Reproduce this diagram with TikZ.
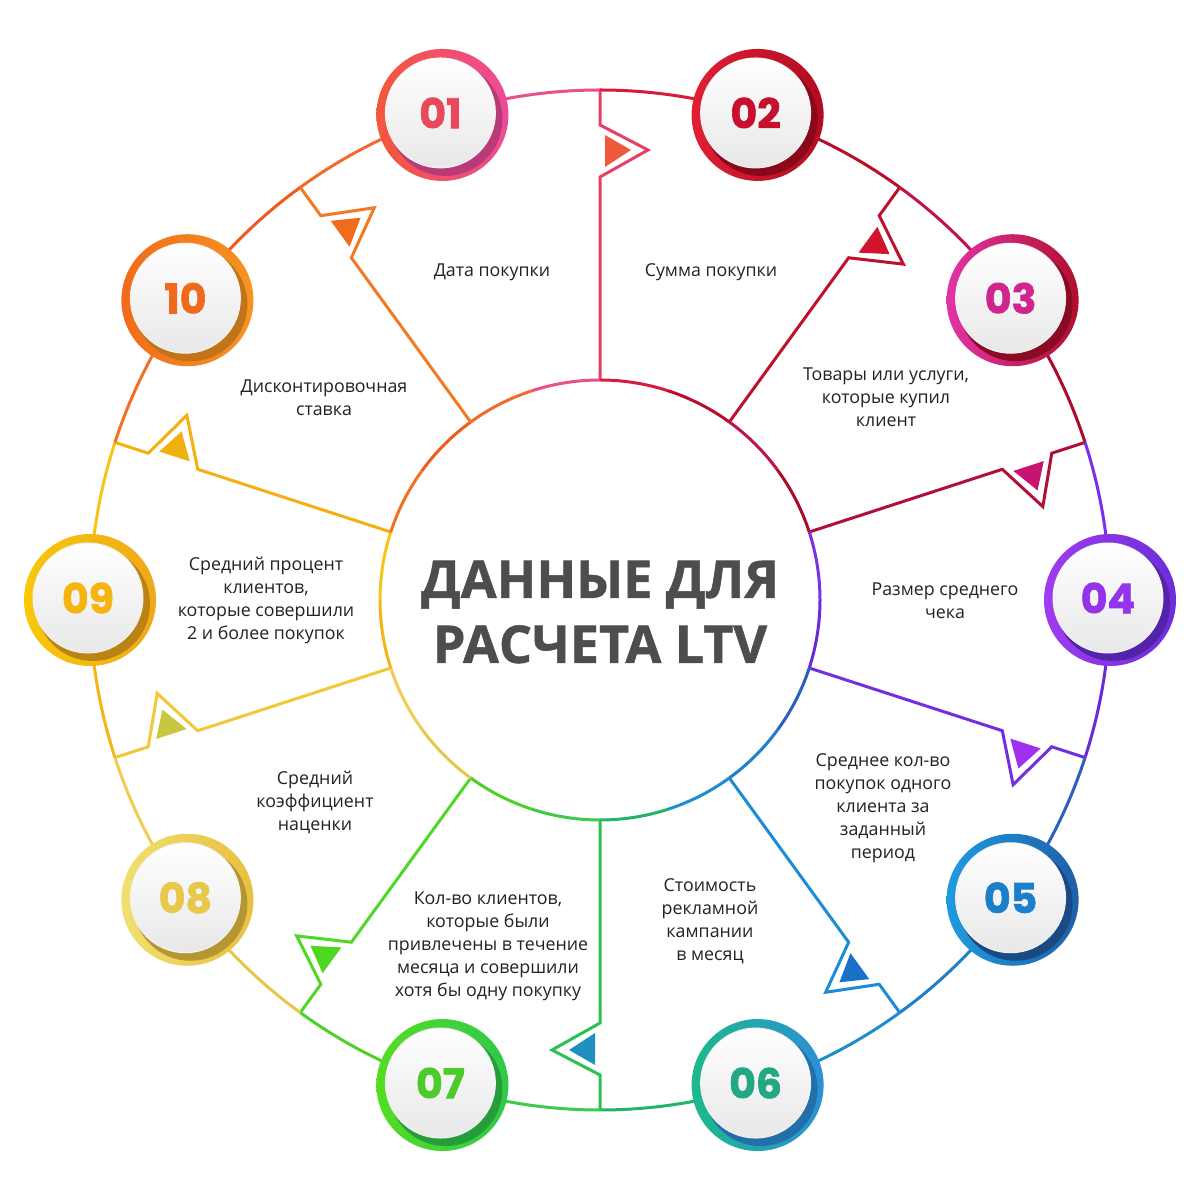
\documentclass[tikz,border=0pt]{standalone}
\usepackage{fontspec}
\setmainfont{Open Sans}
\newfontfamily\numfont{Poppins}[BoldFeatures={FakeBold=1.6}]
\newfontfamily\titlefont{Open Sans}[BoldFeatures={FakeBold=1}]
\usetikzlibrary{calc}
% ring / circle half colours (ccw side, cw side)
\definecolor{ccw01}{HTML}{F26B2D}\definecolor{cw01}{HTML}{EC4F8E}
\definecolor{ccw02}{HTML}{D81B3C}\definecolor{cw02}{HTML}{B80E2A}
\definecolor{ccw03}{HTML}{C0134A}\definecolor{cw03}{HTML}{A80C28}
\definecolor{ccw04}{HTML}{7A2FE8}\definecolor{cw04}{HTML}{6A2AD8}
\definecolor{ccw05}{HTML}{2A5FC0}\definecolor{cw05}{HTML}{1E7FCC}
\definecolor{ccw06}{HTML}{1E8CD0}\definecolor{cw06}{HTML}{22B468}
\definecolor{ccw07}{HTML}{3CCB4A}\definecolor{cw07}{HTML}{4CD02A}
\definecolor{ccw08}{HTML}{E8C64A}\definecolor{cw08}{HTML}{F0CC50}
\definecolor{ccw09}{HTML}{F5B514}\definecolor{cw09}{HTML}{F5C518}
\definecolor{ccw10}{HTML}{F27024}\definecolor{cw10}{HTML}{F05A1E}
% spoke colours
\definecolor{sp01}{HTML}{E83E6A}\definecolor{sp02}{HTML}{C0102E}
\definecolor{sp03}{HTML}{B01038}\definecolor{sp04}{HTML}{7030E0}
\definecolor{sp05}{HTML}{1C8CD6}\definecolor{sp06}{HTML}{2CC050}
\definecolor{sp07}{HTML}{50D828}\definecolor{sp08}{HTML}{F0C838}
\definecolor{sp09}{HTML}{F5B010}\definecolor{sp10}{HTML}{F27A22}
% triangle colours
\definecolor{tr01}{HTML}{F05A3A}\definecolor{tr02}{HTML}{D0142C}
\definecolor{tr03}{HTML}{C81470}\definecolor{tr04}{HTML}{A030F0}
\definecolor{tr05}{HTML}{1A70C8}\definecolor{tr06}{HTML}{2090C0}
\definecolor{tr07}{HTML}{50D820}\definecolor{tr08}{HTML}{C8C840}
\definecolor{tr09}{HTML}{F0B010}\definecolor{tr10}{HTML}{F26A1C}
% badge ring left / right, number colour
\definecolor{L01}{HTML}{F4583A}\definecolor{R01}{HTML}{EC4A9A}\definecolor{N01}{HTML}{E9485A}
\definecolor{L02}{HTML}{E01F34}\definecolor{R02}{HTML}{B00C22}\definecolor{N02}{HTML}{C8102E}
\definecolor{L03}{HTML}{E233A8}\definecolor{R03}{HTML}{B0102E}\definecolor{N03}{HTML}{D0248F}
\definecolor{L04}{HTML}{A03CF0}\definecolor{R04}{HTML}{6A2ED8}\definecolor{N04}{HTML}{9333EA}
\definecolor{L05}{HTML}{1E9BE0}\definecolor{R05}{HTML}{1F5FA8}\definecolor{N05}{HTML}{1C7FCC}
\definecolor{L06}{HTML}{1DB98A}\definecolor{R06}{HTML}{2C8FD8}\definecolor{N06}{HTML}{22A884}
\definecolor{L07}{HTML}{55DD22}\definecolor{R07}{HTML}{2FC94A}\definecolor{N07}{HTML}{4CCB2A}
\definecolor{L08}{HTML}{F0E070}\definecolor{R08}{HTML}{E8C040}\definecolor{N08}{HTML}{E8C84A}
\definecolor{L09}{HTML}{F8C80A}\definecolor{R09}{HTML}{F0A81A}\definecolor{N09}{HTML}{F5B50E}
\definecolor{L10}{HTML}{F26A1C}\definecolor{R10}{HTML}{F79420}\definecolor{N10}{HTML}{F06A1E}
\definecolor{titlegray}{HTML}{4D4D4D}
\definecolor{labeltext}{HTML}{222222}
\tikzset{
  ringline/.style={line width=3},
  spokeline/.style={line width=3, line join=miter},
  lbl/.style={align=center, text=labeltext, font=\fontsize{17.8}{23}\selectfont},
  numtext/.style={font=\numfont\bfseries\fontsize{41}{41}\selectfont}
}
\begin{document}
\begin{tikzpicture}[x=1pt,y=1pt]
\useasboundingbox[fill=white] (0,0) rectangle (1200,1200);
\coordinate (C) at (600,600);
% ring arcs, inner circle arcs, spokes
\foreach \n/\a in {01/108,02/72,03/36,04/0,05/-36,06/-72,07/-108,08/-144,09/180,10/144}{
  \pgfmathsetmacro\ap{\a+18}
  \pgfmathsetmacro\am{\a-18}
  \draw[ringline, ccw\n] ($(C)+(\a:510)$) arc[start angle=\a, end angle=\ap, radius=510];
  \draw[ringline, cw\n] ($(C)+(\am:510)$) arc[start angle=\am, end angle=\a, radius=510];
  \draw[ringline, ccw\n] ($(C)+(\a:220)$) arc[start angle=\a, end angle=\ap, radius=220];
  \draw[ringline, cw\n] ($(C)+(\am:220)$) arc[start angle=\am, end angle=\a, radius=220];
  \begin{scope}[shift={(C)}, rotate=\am]
    \draw[spokeline, sp\n] (220,0) -- (423,0) -- (450,-48) -- (475,0) -- (510,0);
    \fill[tr\n] (433,-5) -- (465,-5) -- (450,-31) -- cycle;
  \end{scope}
}
% badges
\foreach \n/\a in {01/108,02/72,03/36,04/0,05/-36,06/-72,07/-108,08/-144,09/180,10/144}{
  \shade[left color=L\n, right color=R\n] ($(C)+(\a:510)$) circle[radius=66];
  \fill[R\n!78!black] ($(C)+(\a:510)+(3,-4)$) circle[radius=57];
  \shade[top color=white, bottom color=black!9, draw=black!5, line width=1] ($(C)+(\a:510)+(-2,2)$) circle[radius=55];
  \node[numtext, text=N\n] (b\n) at ($(C)+(\a:510)+(-2,2)$) {\n};
}
% title
\node[align=center, text=titlegray, font=\titlefont\bfseries\fontsize{52}{65}\selectfont] (title) at (600,588) {ДАННЫЕ ДЛЯ\\РАСЧЕТА LTV};
% labels
\node[lbl] (t01) at (492,928) {Дата покупки};
\node[lbl] (t02) at (711,928) {Сумма покупки};
\node[lbl] (t03) at (886,803) {Товары или услуги,\\которые купил\\клиент};
\node[lbl] (t04) at (945,599) {Размер среднего\\чека};
\node[lbl] (t05) at (883,392) {Среднее кол-во\\покупок одного\\клиента за\\заданный\\период};
\node[lbl] (t06) at (710,279) {Стоимость\\рекламной\\кампании\\в месяц};
\node[lbl] (t07) at (488,254) {Кол-во клиентов,\\которые были\\привлечены в течение\\месяца и совершили\\хотя бы одну покупку};
\node[lbl] (t08) at (315,398) {Средний\\коэффициент\\наценки};
\node[lbl] (t09) at (266,600) {Средний процент\\клиентов,\\которые совершили\\2 и более покупок};
\node[lbl] (t10) at (324,802.5) {Дисконтировочная\\ставка};
\end{tikzpicture}
\end{document}
